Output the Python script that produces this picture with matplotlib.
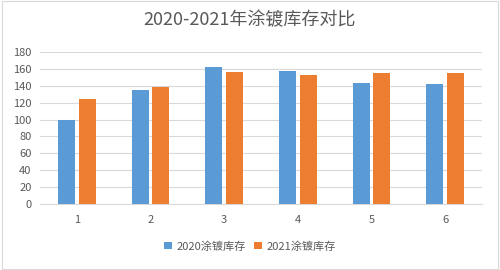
import numpy as np
import matplotlib.pyplot as plt
from matplotlib.patches import Rectangle

plt.rcParams['font.family'] = ['Noto Sans CJK SC', 'DejaVu Sans']

categories = ['1', '2', '3', '4', '5', '6']
stock_2020 = [99, 135, 162, 157, 143, 142]
stock_2021 = [124, 139, 156, 153, 155, 155]
series_names = ['2020涂镀库存', '2021涂镀库存']
title = '2020-2021年涂镀库存对比'

blue = '#5B9BD5'
orange = '#ED7D31'
grey_text = '#595959'

fig = plt.figure(figsize=(5, 2.7), dpi=100)
fig.patches.append(Rectangle((0.004, 0.004), 0.992, 0.992, transform=fig.transFigure,
                             fill=False, edgecolor='#D9D9D9', linewidth=0.8))
ax = fig.add_axes([0.08, 0.2444, 0.884, 0.563])

x = np.arange(len(categories))
w = 0.23
ax.bar(x - w / 2 - 0.025, stock_2020, width=w, color=blue, label=series_names[0], zorder=3)
ax.bar(x + w / 2 + 0.025, stock_2021, width=w, color=orange, label=series_names[1], zorder=3)

ax.set_xlim(-0.5, len(categories) - 0.5)
ax.set_ylim(0, 180)
ax.set_yticks(np.arange(0, 181, 20))
ax.set_xticks(x)
ax.set_xticklabels(categories)
ax.yaxis.grid(True, color='#D9D9D9', linewidth=0.8, zorder=0)
ax.tick_params(axis='both', length=0, labelsize=8, colors=grey_text)
ax.tick_params(axis='x', pad=8)
ax.tick_params(axis='y', pad=6)
for s in ['top', 'right', 'left']:
    ax.spines[s].set_visible(False)
ax.spines['bottom'].set_color('#D9D9D9')

fig.text(0.5, 0.925, title, ha='center', va='center', fontsize=13, color=grey_text)
fig.legend(loc='center', bbox_to_anchor=(0.5, 0.088), ncol=2, frameon=False,
           fontsize=8, labelcolor=grey_text, handlelength=0.7, handleheight=0.7,
           handletextpad=0.4, columnspacing=0.8)

fig.savefig('out.png', dpi=100)
